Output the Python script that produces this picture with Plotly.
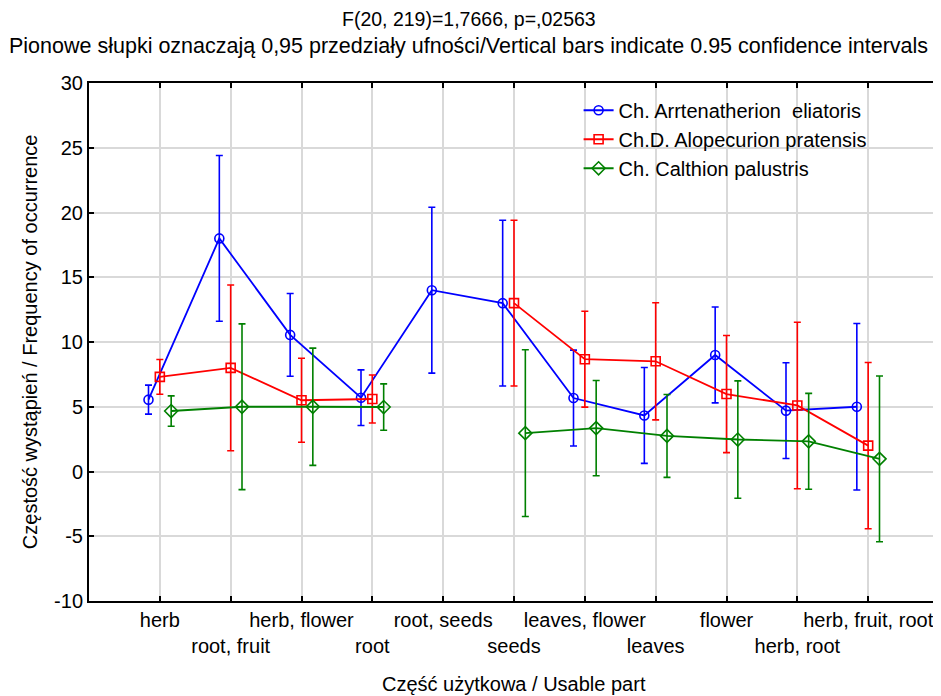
import plotly.graph_objects as go

categories = ["herb", "root, fruit", "herb, flower", "root", "root, seeds", "seeds",
              "leaves, flower", "leaves", "flower", "herb, root", "herb, fruit, root"]

series_names = ["Ch. Arrtenatherion\u00a0\u00a0eliatoris", "Ch.D. Alopecurion pratensis", "Ch. Calthion palustris"]

blue_mean = [5.55, 18.0, 10.55, 5.7, 14.0, 13.0, 5.67, 4.33, 9.0, 4.7, 5.0]
blue_ci = [1.12, 6.4, 3.2, 2.15, 6.4, 6.4, 3.7, 3.7, 3.7, 3.7, 6.43]

red_mean = [7.31, 8.0, 5.5, 5.6, None, 13.0, 8.67, 8.51, 5.98, 5.1, 2.0]
red_ci = [1.34, 6.4, 3.24, 1.85, None, 6.4, 3.7, 4.52, 4.52, 6.43, 6.42]

green_mean = [4.67, 5.0, 5.0, 4.98, None, 2.96, 3.35, 2.75, 2.47, 2.33, 0.98]
green_ci = [1.17, 6.4, 4.53, 1.79, None, 6.44, 3.68, 3.2, 4.53, 3.7, 6.4]

y_ticks = [-10, -5, 0, 5, 10, 15, 20, 25, 30]
y_ticklabels = ["-10", "-5", "0", "5", "10", "15", "20", "25", "30"]

title_line1 = "F(20, 219)=1,7666, p=,02563"
title_line2 = "Pionowe słupki oznaczają 0,95 przedziały ufności/Vertical bars indicate 0.95 confidence intervals"
x_title = "Część użytkowa / Usable part"
y_title = "Częstość wystąpień / Frequency of occurrence"

FONT = "Liberation Sans, Arial, sans-serif"
styles = [
    dict(color="#0000ff", symbol="circle-open", size=9, offset=-0.16),
    dict(color="#ff0000", symbol="square-open", size=9, offset=0.0),
    dict(color="#008000", symbol="diamond-open", size=10, offset=0.16),
]
data = [(blue_mean, blue_ci), (red_mean, red_ci), (green_mean, green_ci)]

fig = go.Figure()
for name, (means, cis), st in zip(series_names, data, styles):
    xs = [i + st["offset"] for i in range(len(categories))]
    fig.add_trace(go.Scatter(
        x=xs, y=means, name=name, mode="lines+markers",
        line=dict(color=st["color"], width=1.8),
        marker=dict(symbol=st["symbol"], size=st["size"], color=st["color"],
                    line=dict(color=st["color"], width=1.6)),
        error_y=dict(type="data", array=cis, visible=True, color=st["color"],
                     thickness=1.6, width=3.5),
        connectgaps=False,
    ))

ticktext = [c if i % 2 == 0 else "<br>" + c for i, c in enumerate(categories)]

fig.update_layout(
    width=933, height=688,
    margin=dict(l=81, r=0, t=75, b=95),
    paper_bgcolor="white", plot_bgcolor="white",
    font=dict(family=FONT, size=20, color="black"),
    showlegend=True,
    legend=dict(x=0.576, y=0.985, xanchor="left", yanchor="top",
                bgcolor="rgba(0,0,0,0)", borderwidth=0,
                font=dict(family=FONT, size=20, color="black")),
    xaxis=dict(range=[-1, 11], tickmode="array", tickvals=list(range(len(categories))),
               ticktext=ticktext, showgrid=True, gridcolor="#d9d9d9", gridwidth=1.5,
               showline=True, linecolor="black", linewidth=2, mirror="ticks",
               ticks="inside", ticklen=5, tickwidth=1.5, tickcolor="black",
               zeroline=False, tickfont=dict(size=20), tickangle=0),
    yaxis=dict(range=[-10, 30], tickmode="array", tickvals=y_ticks, ticktext=y_ticklabels,
               showgrid=True, gridcolor="#d9d9d9", gridwidth=1.5,
               showline=True, linecolor="black", linewidth=2, mirror="ticks",
               ticks="inside", ticklen=5, tickwidth=1.5, tickcolor="black",
               zeroline=False, tickfont=dict(size=20)),
    annotations=[
        dict(text=title_line1, xref="paper", yref="paper", x=0.447, y=1.123,
             xanchor="center", yanchor="middle", showarrow=False, font=dict(size=19.5)),
        dict(text=title_line2, xref="paper", yref="paper", x=0.447, y=1.071,
             xanchor="center", yanchor="middle", showarrow=False, font=dict(size=21.5)),
        dict(text=x_title, xref="paper", yref="paper", x=0.5, y=-0.161,
             xanchor="center", yanchor="middle", showarrow=False, font=dict(size=20)),
        dict(text=y_title, xref="paper", yref="paper", x=-0.0692, y=0.5,
             xanchor="center", yanchor="middle", showarrow=False, textangle=-90,
             font=dict(size=20)),
    ],
)

fig.write_html("out.html")
